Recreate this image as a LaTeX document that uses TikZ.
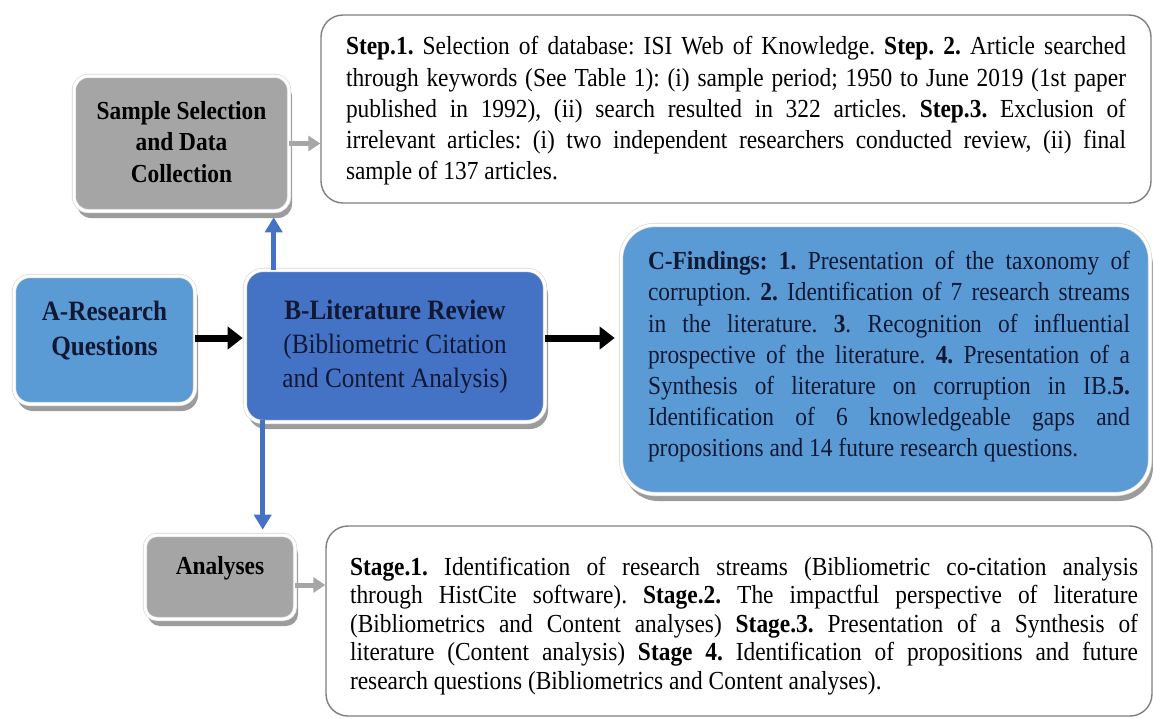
\documentclass[tikz,border=0pt]{standalone}
\usepackage{fontspec}
\setmainfont{Liberation Serif}[FakeStretch=0.9]
\usetikzlibrary{arrows.meta,shadows}
\frenchspacing

\definecolor{boxgray}{HTML}{A5A5A5}
\definecolor{lightblue}{HTML}{5B9BD5}
\definecolor{midblue}{HTML}{4472C4}
\definecolor{navytext}{HTML}{101833}
\definecolor{framegray}{HTML}{D4D4D4}
\definecolor{shadowgray}{HTML}{9C9C9C}
\definecolor{outlinegray}{HTML}{7F7F7F}
\definecolor{arrowgray}{HTML}{A6A6A6}

% one justified line of a given width
\newcommand\jrow[2]{\makebox[#1][s]{#2}}

\tikzset{
  bevel/.style={draw=framegray, line width=0.6pt, double=white, double distance=3pt,
    inner sep=0pt,
    drop shadow={shadow xshift=3pt, shadow yshift=-7pt, fill=shadowgray, opacity=1}},
  textpanel/.style={draw=outlinegray, line width=1.4pt, fill=white, rounded corners=22pt,
    inner sep=0pt},
  bodytext/.style={font=\fontsize{26}{31.2}\selectfont, align=left},
  headtext/.style={font=\fontsize{26}{31.5}\selectfont\bfseries, align=center},
  bigtext/.style={font=\fontsize{28}{34}\selectfont, align=center, text=navytext},
  grayarrow/.style={draw=arrowgray, line width=5pt, -{Triangle[length=12pt,width=15pt]}},
  blackarrow/.style={draw=black, line width=7pt, -{Triangle[length=15pt,width=22pt]}},
  bluearrow/.style={draw=midblue, line width=5.5pt, -{Triangle[length=15pt,width=17pt]}},
}

\begin{document}
\begin{tikzpicture}[x=1pt,y=-1pt]
\useasboundingbox (0,0) rectangle (1153,718);

% bevelled boxes
\node[bevel, fill=boxgray, rounded corners=14pt, minimum width=215pt, minimum height=135pt] (sample) at (181.5,143.5) {};
\node[headtext] (samplelabel) at (181.5,142) {Sample Selection\\and Data\\Collection};

\node[bevel, fill=lightblue, rounded corners=16pt, minimum width=181pt, minimum height=128pt] (rq) at (104.5,340) {};
\node[bigtext, font=\fontsize{28}{35}\selectfont\bfseries] (rqlabel) at (104.5,331) {A-Research\\Questions};

\node[bevel, fill=midblue, rounded corners=18pt, minimum width=300pt, minimum height=152pt] (lr) at (395,346) {};
\node[bigtext] (lrlabel) at (395,347) {\textbf{B-Literature Review}\\(Bibliometric Citation\\and Content Analysis)};

\node[bevel, fill=lightblue, rounded corners=34pt, minimum width=529pt, minimum height=269pt] (find) at (885.5,359.5) {};
\node[bodytext, text=navytext] (findlabel) at (889,357) {%
\jrow{482pt}{\textbf{C-Findings: 1.} Presentation of the taxonomy of}\\
\jrow{482pt}{corruption. \textbf{2.} Identification of 7 research streams}\\
\jrow{482pt}{in the literature. \textbf{3}. Recognition of influential}\\
\jrow{482pt}{prospective of the literature. \textbf{4.} Presentation of a}\\
\jrow{482pt}{Synthesis of literature on corruption in IB.\textbf{5.}}\\
\jrow{482pt}{Identification of 6 knowledgeable gaps and}\\
propositions and 14 future research questions.};

\node[bevel, fill=boxgray, rounded corners=12pt, minimum width=150pt, minimum height=84pt] (anal) at (220,577) {};
\node[headtext] (anallabel) at (220,568) {Analyses};

% text panels
\node[textpanel, minimum width=830pt, minimum height=188pt] (step) at (736,109) {};
\node[bodytext] (steptext) at (736,111) {%
\jrow{780pt}{\textbf{Step.1.} Selection of database: ISI Web of Knowledge. \textbf{Step. 2.} Article searched}\\
\jrow{780pt}{through keywords (See Table 1): (i) sample period; 1950 to June 2019 (1st paper}\\
\jrow{780pt}{published in 1992), (ii) search resulted in 322 articles. \textbf{Step.3.} Exclusion of}\\
\jrow{780pt}{irrelevant articles: (i) two independent researchers conducted review, (ii) final}\\
sample of 137 articles.};

\node[textpanel, minimum width=826pt, minimum height=190pt] (stage) at (739,621) {};
\node[bodytext, font=\fontsize{26}{28.4}\selectfont] (stagetext) at (744,626) {%
\jrow{788pt}{\textbf{Stage.1.} Identification of research streams (Bibliometric co-citation analysis}\\
\jrow{788pt}{through HistCite software). \textbf{Stage.2.} The impactful perspective of literature}\\
\jrow{788pt}{(Bibliometrics and Content analyses) \textbf{Stage.3.} Presentation of a Synthesis of}\\
\jrow{788pt}{literature (Content analysis) \textbf{Stage 4.} Identification of propositions and future}\\
research questions (Bibliometrics and Content analyses).};

% connectors
\coordinate (sa) at (sample.east);
\draw[grayarrow] (sa) -- (sa -| step.west);

\coordinate (ga) at ([yshift=-8pt]anal.east);
\draw[grayarrow] (ga) -- (ga -| stage.west);

\coordinate (ab) at ([yshift=2pt]rq.east);
\draw[blackarrow, shorten >=2pt] (ab) -- (ab -| lr.west);

\coordinate (bc) at ([yshift=8pt]lr.east);
\draw[blackarrow, shorten >=6pt] (bc) -- (bc -| find.west);

\coordinate (up) at ([xshift=29pt]lr.north west);
\coordinate (uptip) at ([yshift=-6pt]sample.south);
\draw[bluearrow] (up) -- (up |- uptip);

\coordinate (dn) at ([xshift=18pt,yshift=2pt]lr.south west);
\draw[bluearrow, shorten >=5pt] (dn) -- (dn |- anal.north);
\end{tikzpicture}
\end{document}
